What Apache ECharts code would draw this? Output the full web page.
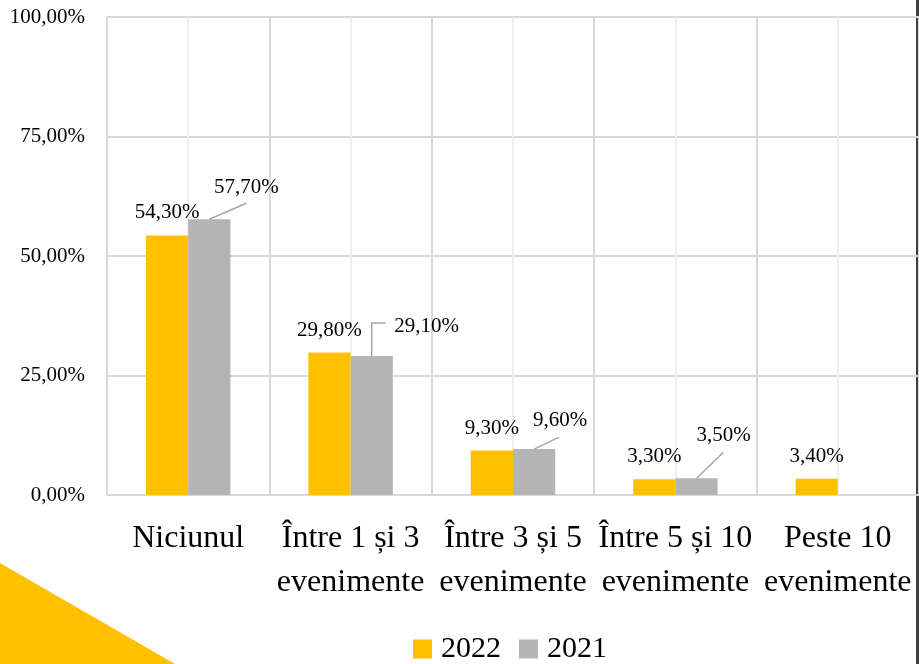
<!DOCTYPE html>
<html>
<head>
<meta charset="utf-8">
<script src="https://cdn.jsdelivr.net/npm/echarts@6/dist/echarts.min.js"></script>
<style>
  html, body { margin: 0; padding: 0; background: #fff; }
  #chart { width: 919px; height: 664px; }
</style>
</head>
<body>
<div id="chart"></div>
<script>
// Number of events per respondent, share of answers by year
const categories = [
  'Niciunul',
  'Între 1 și 3\nevenimente',
  'Între 3 și 5\nevenimente',
  'Între 5 și 10\nevenimente',
  'Peste 10\nevenimente'
];
const values2022 = [54.3, 29.8, 9.3, 3.3, 3.4];
const values2021 = [57.7, 29.1, 9.6, 3.5, null];
const yTicks = [0, 25, 50, 75, 100];

const FONT = 'Liberation Serif';
const YELLOW = '#FFC000';
const GREY = '#B4B4B4';
const BAR_RATIO = 0.26;

// Placement of the 2021 callouts, relative to the top centre of each bar
const callouts2021 = [
  { label: [37, -32], line: [[0, 0], [37, -16]] },
  { label: [55, -29], line: [[0, 0], [0, -33], [14, -33]] },
  { label: [26, -29], line: [[0, 0], [25, -12]] },
  { label: [27, -43], line: [[0, 0], [27, -26]] },
  null
];

const pct = v => v.toFixed(2).replace('.', ',') + '%';

const chart = echarts.init(document.getElementById('chart'), null, { renderer: 'canvas' });

chart.setOption({
  backgroundColor: '#fff',
  animation: false,
  textStyle: { fontFamily: FONT },
  grid: { left: 107, right: -3, top: 17, bottom: 169, containLabel: false },
  legend: {
    data: ['2022', '2021'],
    left: 413,
    top: 634,
    padding: 0,
    icon: 'rect',
    itemWidth: 19,
    itemHeight: 19,
    itemGap: 18,
    textStyle: { fontFamily: FONT, fontSize: 30, color: '#000', padding: [0, 0, 0, 4] }
  },
  xAxis: [
    {
      type: 'category',
      data: categories,
      axisLine: { show: false },
      axisTick: { show: false },
      splitLine: { show: false },
      axisLabel: {
        interval: 0,
        fontFamily: FONT,
        fontSize: 32,
        lineHeight: 44,
        color: '#000',
        margin: 22
      }
    },
    {
      // vertical grid: category boundaries and category centres
      type: 'value',
      min: 0,
      max: categories.length * 2,
      interval: 1,
      position: 'top',
      axisLine: { show: false },
      axisTick: { show: false },
      axisLabel: { show: false },
      splitLine: { show: true, lineStyle: { color: ['#d9d9d9', '#efefef'], width: 2 } }
    }
  ],
  yAxis: {
    type: 'value',
    min: yTicks[0],
    max: yTicks[yTicks.length - 1],
    interval: 25,
    axisLine: { show: false },
    axisTick: { show: false },
    splitLine: { show: true, lineStyle: { color: '#d9d9d9', width: 2 } },
    axisLabel: {
      fontFamily: FONT,
      fontSize: 21,
      color: '#000',
      margin: 22,
      formatter: v => pct(v)
    }
  },
  series: [
    {
      name: '2022',
      type: 'bar',
      data: values2022,
      barWidth: (BAR_RATIO * 100) + '%',
      barGap: '0%',
      itemStyle: { color: YELLOW },
      label: {
        show: true,
        position: 'top',
        distance: 12,
        fontFamily: FONT,
        fontSize: 21,
        color: '#000',
        formatter: p => pct(p.value)
      }
    },
    {
      name: '2021',
      type: 'bar',
      data: values2021,
      barWidth: (BAR_RATIO * 100) + '%',
      barGap: '0%',
      itemStyle: { color: GREY }
    },
    {
      // 2021 callouts with leader lines
      type: 'custom',
      silent: true,
      z: 5,
      data: values2021.map((v, i) => [i, v == null ? NaN : v]),
      encode: { x: 0, y: 1 },
      renderItem: (params, api) => {
        const v = api.value(1);
        const c = callouts2021[params.dataIndex];
        if (!c || isNaN(v)) return null;
        const top = api.coord([api.value(0), v]);
        const band = api.size([1, 0])[0];
        const cx = top[0] + band * BAR_RATIO / 2;
        const cy = top[1];
        return {
          type: 'group',
          children: [
            {
              type: 'polyline',
              shape: { points: c.line.map(p => [cx + p[0], cy + p[1]]) },
              style: { stroke: '#a6a6a6', lineWidth: 1.5, fill: null }
            },
            {
              type: 'text',
              style: {
                text: pct(v),
                x: cx + c.label[0],
                y: cy + c.label[1],
                align: 'center',
                verticalAlign: 'middle',
                font: '21px "' + FONT + '"',
                fill: '#000'
              }
            }
          ]
        };
      }
    }
  ],
  graphic: [
    {
      type: 'polygon',
      silent: true,
      shape: { points: [[0, 563], [175, 664], [0, 664]] },
      style: { fill: YELLOW }
    },
    {
      type: 'rect',
      silent: true,
      shape: { x: 916, y: 0, width: 3, height: 664 },
      style: { fill: '#404040' }
    }
  ]
});
</script>
</body>
</html>
